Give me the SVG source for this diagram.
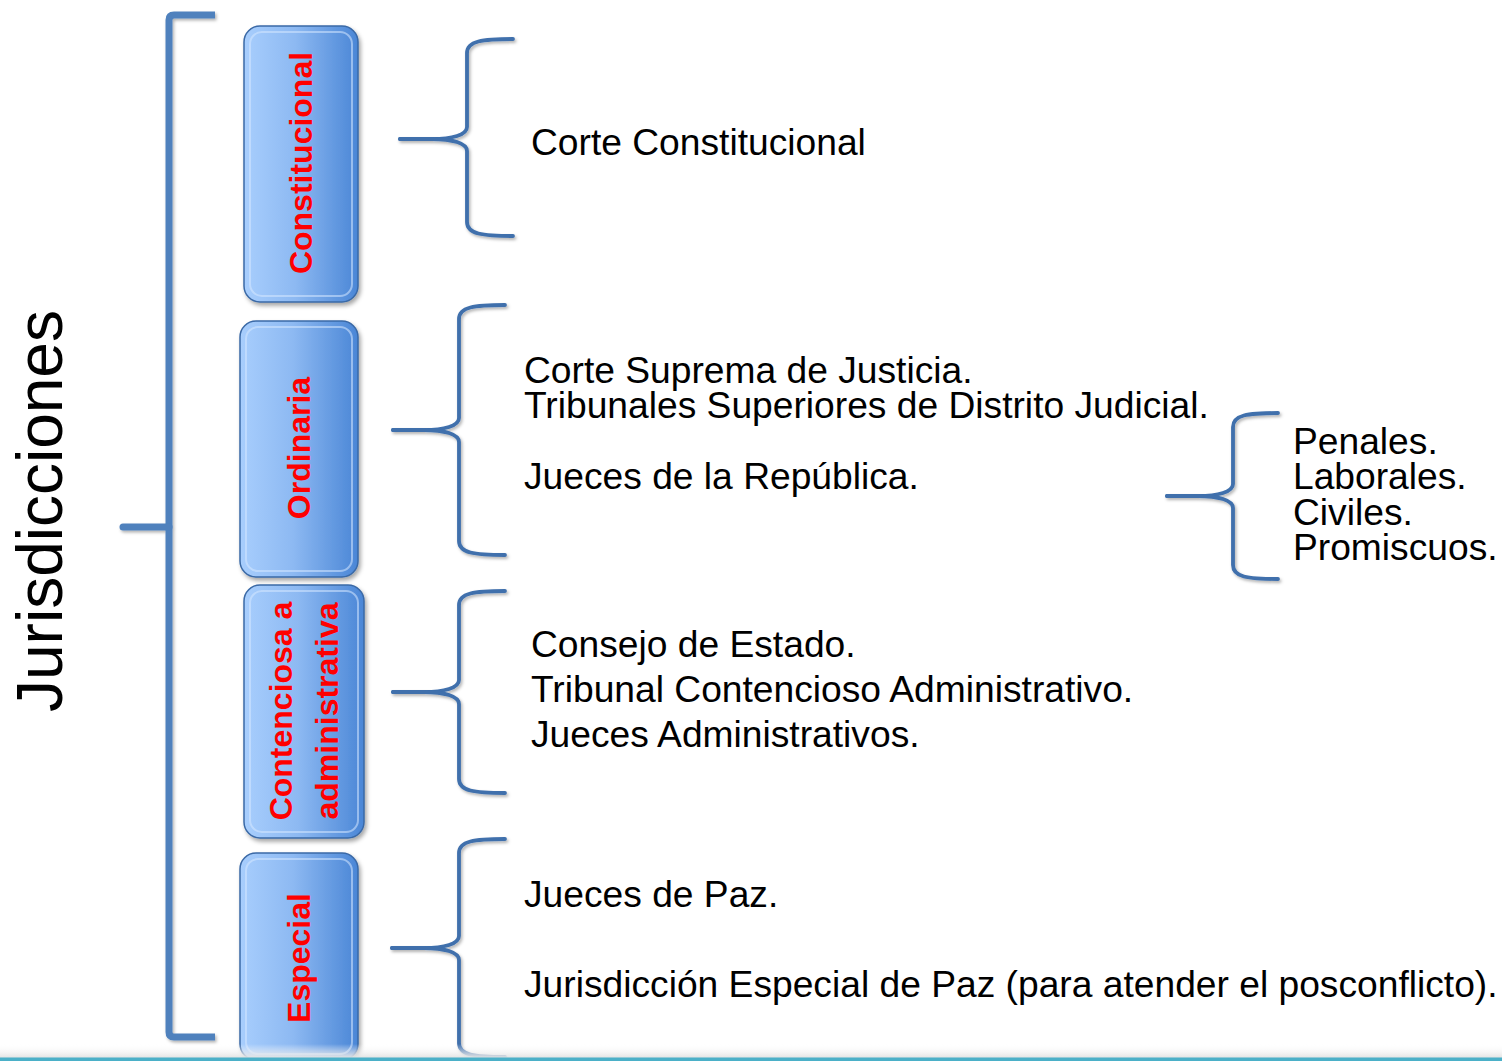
<svg xmlns="http://www.w3.org/2000/svg" width="1502" height="1061" viewBox="0 0 1502 1061">
<defs>
<linearGradient id="boxg" x1="0" y1="0" x2="1" y2="0">
<stop offset="0" stop-color="#A8CEFD"/>
<stop offset="0.45" stop-color="#8DB9F2"/>
<stop offset="1" stop-color="#4A86D6"/>
</linearGradient>
<linearGradient id="band" x1="0" y1="0" x2="0" y2="1">
<stop offset="0" stop-color="#FFFFFF" stop-opacity="0"/>
<stop offset="1" stop-color="#E2E2E2"/>
</linearGradient>
<filter id="sh" x="-20%" y="-20%" width="140%" height="140%">
<feDropShadow dx="2" dy="3" stdDeviation="2" flood-color="#000" flood-opacity="0.35"/>
</filter>
<filter id="sh2" x="-20%" y="-5%" width="140%" height="110%">
<feDropShadow dx="1.5" dy="2" stdDeviation="1.5" flood-color="#000" flood-opacity="0.3"/>
</filter>
</defs>
<style>
.box{fill:url(#boxg);stroke:#3A69A6;stroke-width:1.5;}
.bevel{fill:none;stroke:#D6E8FF;stroke-opacity:0.55;stroke-width:2;}
.lbl{font-family:"Liberation Sans",Arial,sans-serif;font-weight:bold;font-size:32px;fill:#FF0000;text-anchor:middle;}
.txt{font-family:"Liberation Sans",Arial,sans-serif;font-size:37.2px;fill:#000;}
.title{font-family:"Liberation Sans",Arial,sans-serif;font-size:64px;fill:#000;text-anchor:middle;}
.brace{fill:none;stroke:#3F6FAC;stroke-width:3.8;stroke-linecap:round;stroke-linejoin:round;}
.bracket{fill:none;stroke:#4F81BD;stroke-width:7;stroke-linejoin:round;}
</style>
<rect width="1502" height="1061" fill="#FFFFFF"/>
<g id="title">
<text class="title" transform="translate(62,511) rotate(-90)">Jurisdicciones</text>
</g>
<g id="connectors">
<g filter="url(#sh2)">
<path class="bracket" d="M215,15 L174,15 Q169,15 169,20 L169,1032 Q169,1037 174,1037 L215,1037"/>
<path class="bracket" d="M123,527 L169,527" stroke-linecap="round"/>
</g>
<g filter="url(#sh2)">
<path class="brace" d="M513,39 C482,39 467,41 467,53 L467,127 C467,135 452,139 432,139 L400,139"/>
<path class="brace" d="M400,139 L432,139 C452,139 467,143 467,151 L467,222 C467,234 482,236 513,236"/>
<path class="brace" d="M505,305 C474,305 459,307 459,319 L459,418 C459,426 444,430 424,430 L393,430"/>
<path class="brace" d="M393,430 L424,430 C444,430 459,434 459,442 L459,541 C459,553 474,555 505,555"/>
<path class="brace" d="M505,591 C474,591 459,593 459,605 L459,680 C459,688 444,692 424,692 L393,692"/>
<path class="brace" d="M393,692 L424,692 C444,692 459,696 459,704 L459,779 C459,791 474,793 505,793"/>
<path class="brace" d="M505,839 C474,839 459,841 459,853 L459,936 C459,944 444,948 424,948 L392,948"/>
<path class="brace" d="M392,948 L424,948 C444,948 459,952 459,960 L459,1043 C459,1055 474,1057 505,1057"/>
<path class="brace" d="M1278,413 C1247,413 1233,415 1233,427 L1233,484 C1233,492 1218,496 1198,496 L1167,496"/>
<path class="brace" d="M1167,496 L1198,496 C1218,496 1233,500 1233,508 L1233,565 C1233,577 1247,579 1278,579"/>
</g>
</g>
<g id="node-constitucional">
<rect class="box" x="244" y="26" width="114" height="276" rx="16" filter="url(#sh)"/>
<rect class="bevel" x="250" y="32" width="102" height="264" rx="12"/>
<text class="lbl" transform="translate(312,163) rotate(-90)">Constitucional</text>
</g>
<g id="node-ordinaria">
<rect class="box" x="240" y="321" width="118" height="256" rx="16" filter="url(#sh)"/>
<rect class="bevel" x="246" y="327" width="106" height="244" rx="12"/>
<text class="lbl" transform="translate(310,448) rotate(-90)">Ordinaria</text>
</g>
<g id="node-contenciosa">
<rect class="box" x="244" y="585" width="120" height="253" rx="16" filter="url(#sh)"/>
<rect class="bevel" x="250" y="591" width="108" height="241" rx="12"/>
<text class="lbl" transform="translate(292,711) rotate(-90)">Contenciosa a</text>
<text class="lbl" transform="translate(338,711) rotate(-90)">administrativa</text>
</g>
<g id="node-especial">
<rect class="box" x="240" y="853" width="118" height="207" rx="16" filter="url(#sh)"/>
<rect class="bevel" x="246" y="859" width="106" height="195" rx="12"/>
<text class="lbl" transform="translate(310,958) rotate(-90)">Especial</text>
</g>
<g id="text-constitucional">
<text class="txt" x="531" y="155">Corte Constitucional</text>
</g>
<g id="text-ordinaria">
<text class="txt" x="524" y="383">Corte Suprema de Justicia.</text>
<text class="txt" x="524" y="418">Tribunales Superiores de Distrito Judicial.</text>
<text class="txt" x="524" y="489">Jueces de la República.</text>
</g>
<g id="text-jueces">
<text class="txt" x="1293" y="454">Penales.</text>
<text class="txt" x="1293" y="489">Laborales.</text>
<text class="txt" x="1293" y="525">Civiles.</text>
<text class="txt" x="1293" y="560">Promiscuos.</text>
</g>
<g id="text-contenciosa">
<text class="txt" x="531" y="657">Consejo de Estado.</text>
<text class="txt" x="531" y="702">Tribunal Contencioso Administrativo.</text>
<text class="txt" x="531" y="747">Jueces Administrativos.</text>
</g>
<g id="text-especial">
<text class="txt" x="524" y="907">Jueces de Paz.</text>
<text class="txt" x="524" y="997">Jurisdicción Especial de Paz (para atender el posconflicto).</text>
</g>
<rect x="0" y="1044" width="1502" height="14" fill="url(#band)"/>
<rect x="0" y="1057.5" width="1502" height="3.5" fill="#4BB0C8"/>
</svg>
